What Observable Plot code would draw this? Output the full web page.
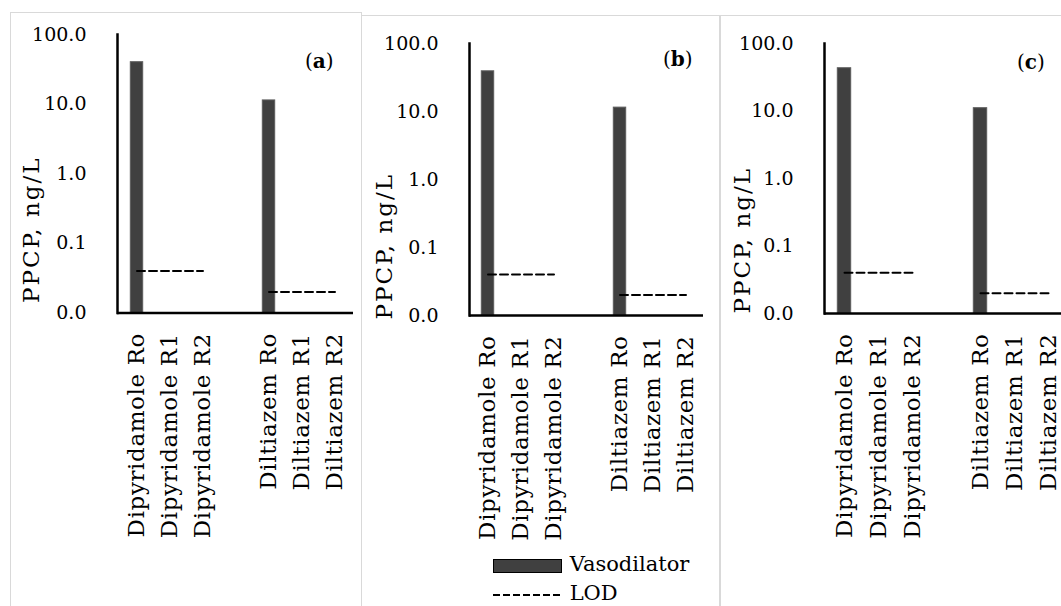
<!DOCTYPE html>
<html><head><meta charset="utf-8">
<script src="https://cdn.jsdelivr.net/npm/d3@7"></script>
<script src="https://cdn.jsdelivr.net/npm/@observablehq/plot@0.6"></script>
<style>
html,body{margin:0;padding:0;background:#fff;}
#root{position:relative;width:1061px;height:606px;overflow:hidden;background:#fff;font-family:"DejaVu Serif",serif;color:#000;}
.panel{position:absolute;border:1.5px solid #d9d9d9;border-bottom:none;box-sizing:border-box;}
.chart{position:absolute;top:0;}
.chart svg{overflow:visible;max-width:none !important;}
.chart g.ytitle text{letter-spacing:2px;}
.chart g[aria-label="x-axis tick label"] text{letter-spacing:0.6px;}
.tag{position:absolute;font-size:20px;line-height:20px;white-space:nowrap;}
.legend{position:absolute;font-size:21px;line-height:21px;white-space:nowrap;}
.legend .row{position:absolute;left:0;white-space:nowrap;}
.legend svg{vertical-align:middle;}
</style></head><body><div id="root"></div>
<script>
// ---- data ----
const categories = ["Dipyridamole Ro", "Dipyridamole R1", "Dipyridamole R2", " ", "Diltiazem Ro", "Diltiazem R1", "Diltiazem R2"];
const panelLetters = ["a", "b", "c"];
const vasodilatorA = [40.0, null, null, null, 11.3, null, null];
const vasodilatorB = [39.0, null, null, null, 11.4, null, null];
const vasodilatorC = [43.0, null, null, null, 11.0, null, null];
const lodValues = [0.04, 0.04, 0.04, null, 0.02, 0.02, 0.02];
const yTicks = [0.01, 0.1, 1, 10, 100];
const yDomain = [0.01, 100];
const yLabel = "PPCP, ng/L";
const legendLabels = ["Vasodilator", "LOD"];

// ---- layout (pixels) ----
const layouts = [
  {series: vasodilatorA, left: 0,   width: 362, mL: 117, mR: 9,  mT: 34, mB: 293.5, titleDx: -95, titleDy: -10, box: [10, 12, 352], tag: [305, 51]},
  {series: vasodilatorB, left: 362, width: 358, mL: 107, mR: 17, mT: 43, mB: 291,   titleDx: -94, titleDy: 4,   box: [361, 15, 359], tag: [663, 49]},
  {series: vasodilatorC, left: 720, width: 350, mL: 104, mR: 3,  mT: 43, mB: 293,   titleDx: -91, titleDy: 0,   box: [720, 15, 360], tag: [1017, 52]}
];

const root = document.getElementById("root");

layouts.forEach((L) => {
  const box = document.createElement("div");
  box.className = "panel";
  box.style.left = L.box[0] + "px";
  box.style.top = L.box[1] + "px";
  box.style.width = L.box[2] + "px";
  box.style.height = (606 - L.box[1] + 5) + "px";
  root.appendChild(box);
});

layouts.forEach((L, i) => {
  const rows = categories.map((c, k) => ({category: c, value: L.series[k], lod: lodValues[k]}));
  const chart = Plot.plot({
    width: L.width,
    height: 606,
    marginLeft: L.mL,
    marginRight: L.mR,
    marginTop: L.mT,
    marginBottom: L.mB,
    style: {fontFamily: "DejaVu Serif", fontSize: "19px", color: "#000", background: "transparent", overflow: "visible"},
    x: {type: "band", domain: categories, padding: 0},
    y: {type: "log", domain: yDomain},
    marks: [
      Plot.barY(rows.filter(d => d.value != null), {
        x: "category", y1: yDomain[0], y2: "value",
        insetLeft: 10.3, insetRight: 10.3,
        fill: "#404040", stroke: "#5c5c5c", strokeWidth: 1
      }),
      Plot.line(rows, {x: "category", y: "lod", stroke: "#000", strokeWidth: 2, strokeDasharray: "8,4"}),
      Plot.ruleY([yDomain[0]], {stroke: "#000", strokeWidth: 2.5}),
      Plot.frame({anchor: "left", stroke: "#000", strokeWidth: 2.5}),
      Plot.axisY({
        ticks: yTicks, tickFormat: d3.format(".1f"), tickSize: 0, tickPadding: 31,
        fontSize: 19, label: null
      }),
      Plot.axisX({tickSize: 0, tickRotate: -90, tickPadding: 20, fontSize: 23, label: null}),
      Plot.text([yLabel], {
        text: d => d, frameAnchor: "bottom-left", rotate: -90,
        textAnchor: "start", lineAnchor: "top", fontSize: 23,
        dx: L.titleDx, dy: L.titleDy, className: "ytitle"
      })
    ]
  });
  const holder = document.createElement("div");
  holder.className = "chart";
  holder.style.left = L.left + "px";
  holder.style.width = L.width + "px";
  holder.appendChild(chart);
  root.appendChild(holder);

  const tag = document.createElement("div");
  tag.className = "tag";
  tag.style.left = L.tag[0] + "px";
  tag.style.top = L.tag[1] + "px";
  tag.innerHTML = "(<b>" + panelLetters[i] + "</b>)";
  root.appendChild(tag);
});

// legend
const legend = document.createElement("div");
legend.className = "legend";
legend.style.left = "493px";
legend.style.top = "554px";
legend.innerHTML =
  '<div class="row" style="top:0px"><svg width="70" height="16"><rect x="0.5" y="1.5" width="68" height="13" fill="#404040" stroke="#000" stroke-width="1"/></svg> ' + legendLabels[0] + '</div>' +
  '<div class="row" style="top:29px"><svg width="70" height="16"><line x1="0" x2="68" y1="8" y2="8" stroke="#000" stroke-width="2" stroke-dasharray="7,3"/></svg> ' + legendLabels[1] + '</div>';
root.appendChild(legend);
</script>
</body></html>
